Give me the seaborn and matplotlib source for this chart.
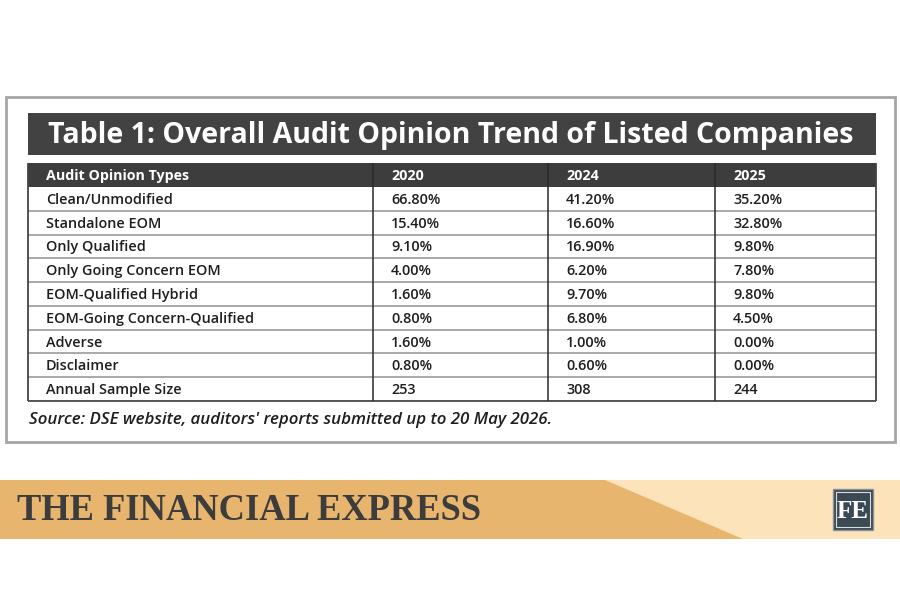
import matplotlib
matplotlib.use("Agg")
import matplotlib.pyplot as plt
from matplotlib.patches import Rectangle, Polygon
import seaborn as sns

# ---------------- data ----------------
title = "Table 1: Overall Audit Opinion Trend of Listed Companies"
header = ["Audit Opinion Types", "2020", "2024", "2025"]
opinion_types = [
    "Clean/Unmodified",
    "Standalone EOM",
    "Only Qualified",
    "Only Going Concern EOM",
    "EOM-Qualified Hybrid",
    "EOM-Going Concern-Qualified",
    "Adverse",
    "Disclaimer",
    "Annual Sample Size",
]
values_2020 = ["66.80%", "15.40%", "9.10%", "4.00%", "1.60%", "0.80%", "1.60%", "0.80%", "253"]
values_2024 = ["41.20%", "16.60%", "16.90%", "6.20%", "9.70%", "6.80%", "1.00%", "0.60%", "308"]
values_2025 = ["35.20%", "32.80%", "9.80%", "7.80%", "9.80%", "4.50%", "0.00%", "0.00%", "244"]
source = "Source: DSE website, auditors' reports submitted up to 20 May 2026."
brand = "THE FINANCIAL EXPRESS"
logo = "FE"

# ---------------- style ----------------
sns.set_theme(style="white")
plt.rcParams["font.family"] = ["Open Sans", "DejaVu Sans"]

fig = plt.figure(figsize=(9, 6), dpi=100)
ax = fig.add_axes([0, 0, 1, 1])
ax.set_xlim(0, 900)
ax.set_ylim(600, 0)
ax.axis("off")

dark = "#3d3d3d"
text_col = "#1e1e1e"

# outer frame
ax.add_patch(Rectangle((6, 97), 889, 345, fill=False, ec="#a6a6a6", lw=2))

# title bar
ax.add_patch(Rectangle((28, 113), 848, 42, fc="#424242", ec="none"))
ax.text(451, 135, title, color="white", fontsize=20.5, fontweight="bold",
        ha="center", va="center")

# table geometry
col_edges = [28, 373, 548, 715, 876]
head_top, head_bot = 163, 187
row_h = (401 - 187) / len(opinion_types)
pad = 18

ax.add_patch(Rectangle((col_edges[0], head_top), col_edges[-1] - col_edges[0],
                       head_bot - head_top, fc=dark, ec="none"))
for j, h in enumerate(header):
    ax.text(col_edges[j] + pad, (head_top + head_bot) / 2 + 1, h, color="white",
            fontsize=10.3, fontweight="bold", ha="left", va="center")

columns = [opinion_types, values_2020, values_2024, values_2025]
n = len(opinion_types)
for i in range(n):
    yc = head_bot + (i + 0.5) * row_h
    for j, col in enumerate(columns):
        ax.text(col_edges[j] + pad, yc + 1, col[i], color=text_col,
                fontsize=10.4, fontweight="semibold", ha="left", va="center")

bottom = head_bot + n * row_h
# horizontal row lines
ax.hlines([head_bot + i * row_h for i in range(1, n)], col_edges[0], col_edges[-1],
          colors="#9a9a9a", lw=1.2)
ax.hlines([bottom], col_edges[0], col_edges[-1], colors="#555555", lw=1.4)
# vertical lines
ax.vlines(col_edges[1:-1], head_top, bottom, colors="#2a2a2a", lw=1.1)
ax.vlines([col_edges[0], col_edges[-1]], head_top, bottom, colors="#444444", lw=1.3)

# source
ax.text(29, 420, source, color=text_col, fontsize=12.2, fontstyle="italic",
        fontweight="semibold", ha="left", va="center")

# brand banner
ax.add_patch(Rectangle((0, 480), 900, 59, fc="#fde3b9", ec="none"))
ax.add_patch(Polygon([(0, 480), (605, 480), (743, 539), (0, 539)], closed=True,
                     fc="#e8b56f", ec="none"))
ax.text(17, 511, brand, color="#3c3c3c", fontsize=26.3, fontweight="bold",
        family=["Liberation Serif", "DejaVu Serif"], ha="left", va="center")

# logo
ax.add_patch(Rectangle((833, 489), 40, 41, fc="#3b4954", ec="#8a9198", lw=1))
ax.add_patch(Rectangle((836, 492), 34, 35, fill=False, ec="#d8dcdf", lw=0.8))
ax.text(853, 511, logo, color="white", fontsize=18, fontweight="bold",
        family=["Liberation Serif", "DejaVu Serif"], ha="center", va="center")

fig.savefig("out.png", dpi=100, facecolor="white")
